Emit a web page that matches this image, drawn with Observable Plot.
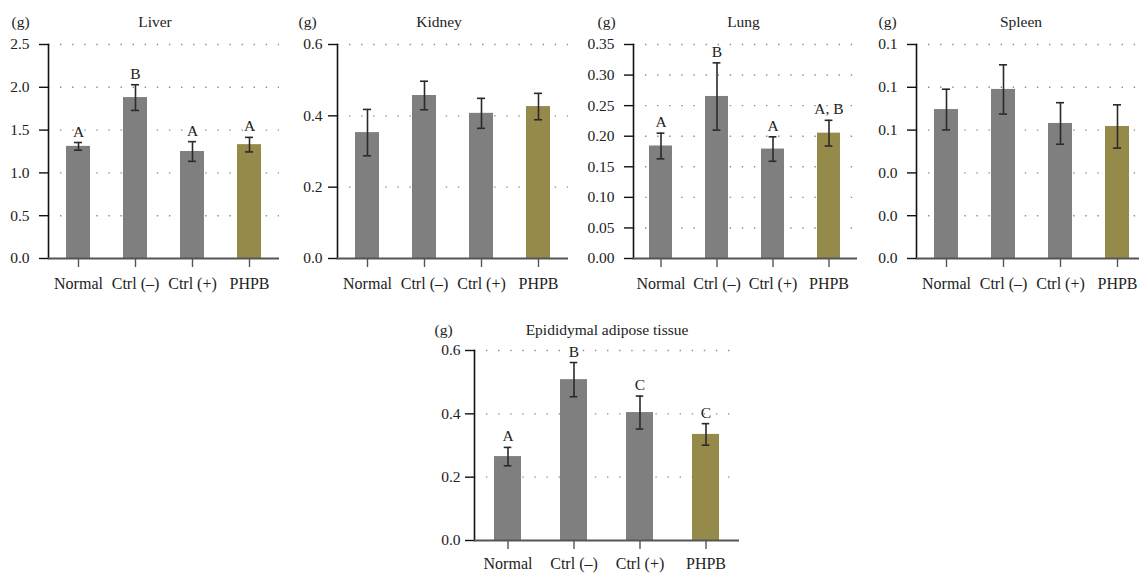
<!DOCTYPE html>
<html><head><meta charset="utf-8">
<script src="https://cdn.jsdelivr.net/npm/d3@7"></script>
<script src="https://cdn.jsdelivr.net/npm/@observablehq/plot@0.6"></script>
<style>
body{margin:0;background:#fff;overflow:hidden}
#wrap{position:relative;width:1139px;height:574px;overflow:hidden}
.p{position:absolute}
.p svg{max-width:none !important}
</style>
</head><body><div id="wrap"></div>
<script>
// ---- data ----
const groups = ["Normal", "Ctrl (–)", "Ctrl (+)", "PHPB"];

const liverMean = [1.31, 1.88, 1.25, 1.33];
const liverErr = [0.045, 0.15, 0.115, 0.085];
const liverLetters = ["A", "B", "A", "A"];
const liverTicks = [0, 0.5, 1.0, 1.5, 2.0, 2.5];
const liverTickLabels = ["0.0", "0.5", "1.0", "1.5", "2.0", "2.5"];

const kidneyMean = [0.353, 0.457, 0.407, 0.426];
const kidneyErr = [0.065, 0.04, 0.042, 0.037];
const kidneyLetters = ["", "", "", ""];
const kidneyTicks = [0, 0.2, 0.4, 0.6];
const kidneyTickLabels = ["0.0", "0.2", "0.4", "0.6"];

const lungMean = [0.184, 0.265, 0.179, 0.205];
const lungErr = [0.021, 0.055, 0.02, 0.021];
const lungLetters = ["A", "B", "A", "A, B"];
const lungTicks = [0, 0.05, 0.10, 0.15, 0.20, 0.25, 0.30, 0.35];
const lungTickLabels = ["0.00", "0.05", "0.10", "0.15", "0.20", "0.25", "0.30", "0.35"];

const spleenMean = [0.0696, 0.079, 0.0631, 0.0617];
const spleenErr = [0.0095, 0.0115, 0.0097, 0.0101];
const spleenLetters = ["", "", "", ""];
const spleenTicks = [0, 0.02, 0.04, 0.06, 0.08, 0.10];
const spleenTickLabels = ["0.0", "0.0", "0.0", "0.1", "0.1", "0.1"];

const epiMean = [0.265, 0.508, 0.404, 0.335];
const epiErr = [0.029, 0.054, 0.052, 0.034];
const epiLetters = ["A", "B", "C", "C"];
const epiTicks = [0, 0.2, 0.4, 0.6];
const epiTickLabels = ["0.0", "0.2", "0.4", "0.6"];

const unitLabel = "(g)";

// ---- style / layout ----
const GRAY = "#7f7f7f", OLIVE = "#968a4b";
const FONT = "'Liberation Serif', 'Times New Roman', serif";
const PAD = 0.586;

const panels = [
  {title: "Liver", mean: liverMean, err: liverErr, letters: liverLetters, ticks: liverTicks, labels: liverTickLabels,
   left: 0, top: 0, width: 285, height: 300, ml: 48, mr: 6, mt: 44, mb: 42, tickPad: 10, xPad: 10, titleDx: -9, gDx: -28, gDy: -22},
  {title: "Kidney", mean: kidneyMean, err: kidneyErr, letters: kidneyLetters, ticks: kidneyTicks, labels: kidneyTickLabels,
   left: 285, top: 0, width: 285, height: 300, ml: 52, mr: 2, mt: 44, mb: 42, tickPad: 6, xPad: 10, titleDx: -14, gDx: -30, gDy: -22},
  {title: "Lung", mean: lungMean, err: lungErr, letters: lungLetters, ticks: lungTicks, labels: lungTickLabels,
   left: 570, top: 0, width: 290, height: 300, ml: 63, mr: 3, mt: 44, mb: 42, tickPad: 10, xPad: 10, titleDx: -2, gDx: -27, gDy: -22},
  {title: "Spleen", mean: spleenMean, err: spleenErr, letters: spleenLetters, ticks: spleenTicks, labels: spleenTickLabels,
   left: 855, top: 0, width: 292, height: 300, ml: 61, mr: 0, mt: 44, mb: 42, tickPad: 10, xPad: 10, titleDx: -11, gDx: -29, gDy: -22},
  {title: "Epididymal adipose tissue", mean: epiMean, err: epiErr, letters: epiLetters, ticks: epiTicks, labels: epiTickLabels,
   left: 420, top: 310, width: 330, height: 264, ml: 54, mr: 11, mt: 40, mb: 34, tickPad: 5, xPad: 8, titleDx: 0, gDx: -31, gDy: -20}
];

const wrap = document.getElementById("wrap");

for (const c of panels) {
  const data = groups.map((g, i) => ({
    g, m: c.mean[i], lo: c.mean[i] - c.err[i], hi: c.mean[i] + c.err[i], letter: c.letters[i]
  }));
  const plotW = c.width - c.ml - c.mr;
  const step = plotW / groups.length;
  const bw = step * (1 - PAD);
  const capInset = Math.max(0, (bw - 8) / 2);
  const top = c.ticks[c.ticks.length - 1];

  const chart = Plot.plot({
    width: c.width, height: c.height,
    marginLeft: c.ml, marginRight: c.mr, marginTop: c.mt, marginBottom: c.mb,
    style: {fontFamily: FONT, fontSize: "15px", color: "#222", background: "transparent", overflow: "visible", maxWidth: "none"},
    x: {type: "band", domain: groups, paddingInner: PAD, paddingOuter: PAD / 2, axis: null},
    y: {domain: [0, top], axis: null},
    color: {type: "ordinal", domain: groups, range: [GRAY, GRAY, GRAY, OLIVE]},
    marks: [
      Plot.ruleY(c.ticks.filter(t => t > 0), {stroke: "#8c8c8c", strokeWidth: 1.4,
        strokeDasharray: "1.4,10.7", strokeDashoffset: -12}),
      Plot.barY(data, {x: "g", y: "m", fill: "g"}),
      Plot.ruleX(data, {x: "g", y1: "lo", y2: "hi", stroke: "#2a2a2a", strokeWidth: 1.6}),
      Plot.tickY(data, {x: "g", y: "lo", stroke: "#2a2a2a", strokeWidth: 1.6, insetLeft: capInset, insetRight: capInset}),
      Plot.tickY(data, {x: "g", y: "hi", stroke: "#2a2a2a", strokeWidth: 1.6, insetLeft: capInset, insetRight: capInset}),
      Plot.text(data, {x: "g", y: "hi", text: "letter", dy: -6, lineAnchor: "bottom", fill: "#222", fontSize: 15.5}),
      Plot.axisY(c.ticks, {tickSize: 9, tickPadding: c.tickPad, stroke: "#111", strokeWidth: 1.4, fill: "#222",
        tickFormat: d => c.labels[c.ticks.indexOf(d)], label: null, fontSize: 15.5}),
      Plot.frame({anchor: "left", stroke: "#111", strokeWidth: 1.6}),
      Plot.axisX({tickSize: 9, tickPadding: c.xPad, stroke: "#555", strokeWidth: 1.4, fill: "#222", label: null, fontSize: 16}),
      Plot.ruleY([0], {stroke: "#555", strokeWidth: 2}),
      Plot.text([unitLabel], {frameAnchor: "top-left", text: d => d, dx: c.gDx, dy: c.gDy,
        textAnchor: "middle", lineAnchor: "middle", fill: "#222", fontSize: 15.5}),
      Plot.text([c.title], {frameAnchor: "top", text: d => d, dx: c.titleDx, dy: c.gDy,
        textAnchor: "middle", lineAnchor: "middle", fill: "#222", fontSize: 15.5})
    ]
  });
  const div = document.createElement("div");
  div.className = "p";
  div.style.left = c.left + "px";
  div.style.top = c.top + "px";
  div.style.width = c.width + "px";
  div.appendChild(chart);
  wrap.appendChild(div);
}
</script>
</body></html>
